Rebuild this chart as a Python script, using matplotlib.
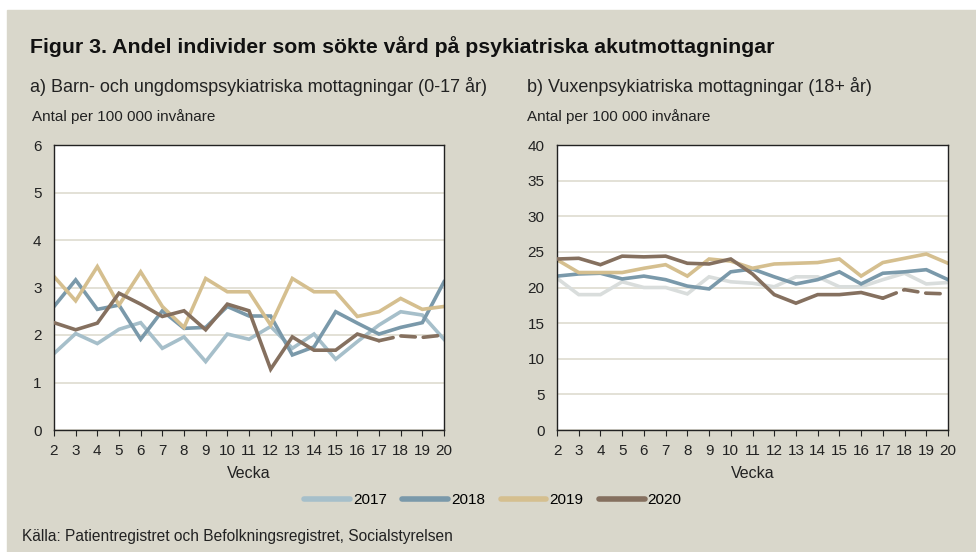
import matplotlib.pyplot as plt
from matplotlib.lines import Line2D

weeks = list(range(2, 21))

# a) Barn- och ungdomspsykiatriska mottagningar (0-17 år)
child_2017 = [1.61, 2.03, 1.82, 2.12, 2.26, 1.72, 1.96, 1.44, 2.02, 1.91,
              2.18, 1.72, 2.02, 1.49, 1.86, 2.21, 2.49, 2.42, 1.91]
child_2018 = [2.60, 3.16, 2.54, 2.63, 1.91, 2.51, 2.14, 2.16, 2.60, 2.40,
              2.40, 1.58, 1.75, 2.49, 2.25, 2.02, 2.16, 2.26, 3.12]
child_2019 = [3.23, 2.72, 3.44, 2.63, 3.33, 2.60, 2.16, 3.19, 2.91, 2.91,
              2.21, 3.19, 2.91, 2.91, 2.39, 2.49, 2.77, 2.54, 2.60]
child_2020 = [2.26, 2.11, 2.25, 2.88, 2.65, 2.39, 2.51, 2.11, 2.65, 2.51,
              1.28, 1.96, 1.68, 1.68, 2.02, 1.88, 1.98, 1.95, 2.00]

# b) Vuxenpsykiatriska mottagningar (18+ år)
adult_2017 = [21.3, 19.0, 19.0, 20.8, 20.0, 20.0, 19.1, 21.5, 20.8, 20.6,
              20.1, 21.5, 21.5, 20.1, 20.1, 21.1, 22.0, 20.5, 20.7]
adult_2018 = [21.6, 21.9, 22.0, 21.2, 21.6, 21.1, 20.2, 19.8, 22.2, 22.6,
              21.5, 20.5, 21.1, 22.2, 20.5, 22.0, 22.2, 22.5, 21.1]
adult_2019 = [23.9, 22.1, 22.1, 22.1, 22.7, 23.2, 21.6, 24.0, 23.7, 22.7,
              23.3, 23.4, 23.5, 24.0, 21.6, 23.5, 24.1, 24.7, 23.4]
adult_2020 = [24.0, 24.1, 23.2, 24.4, 24.3, 24.4, 23.4, 23.3, 24.0, 21.9,
              19.0, 17.8, 19.0, 19.0, 19.3, 18.5, 19.7, 19.2, 19.1]

years = ["2017", "2018", "2019", "2020"]
colors = ["#a6bfca", "#7a99aa", "#d5bf8f", "#85705f"]
last_solid = 17  # veckor efter detta är preliminära (streckade)

bg = "#d9d7cb"
grid_c = "#dedbd0"
font = "Liberation Sans"
plt.rcParams["font.family"] = [font, "DejaVu Sans"]

fig = plt.figure(figsize=(9.76, 5.52), dpi=100)
fig.patch.set_facecolor("white")
fig.add_artist(plt.Rectangle((7 / 976, 0), 1, 1 - 10 / 552,
                             transform=fig.transFigure, color=bg, zorder=-10))


def draw_panel(ax, series, ymax, ystep, col2017):
    cols = [col2017] + colors[1:]
    for name, vals, c in zip(years, series, cols):
        if name == "2020":
            i = weeks.index(last_solid)
            ax.plot(weeks[:i + 1], vals[:i + 1], color=c, lw=2.6,
                    solid_capstyle="round", solid_joinstyle="miter", zorder=3)
            ax.plot(weeks[i:], vals[i:], color=c, lw=2.6, dashes=(4, 2.2),
                    dash_capstyle="round", zorder=3)
        else:
            ax.plot(weeks, vals, color=c, lw=2.6, solid_joinstyle="miter",
                    zorder=2)
    ax.set_xlim(2, 20)
    ax.set_ylim(0, ymax)
    ax.set_xticks(weeks)
    ax.set_yticks(range(0, ymax + 1, ystep))
    ax.yaxis.grid(True, color=grid_c, lw=1.2)
    ax.set_axisbelow(True)
    ax.tick_params(axis="y", length=0, labelsize=11, pad=9, colors="#222222")
    ax.tick_params(axis="x", length=4, direction="out", labelsize=11,
                   pad=6, colors="#222222")
    for s in ax.spines.values():
        s.set_color("#222222")
        s.set_linewidth(1.0)
    ax.set_facecolor("white")
    ax.set_xlabel("Vecka", fontsize=11.5, labelpad=6, color="#222222")


ax1 = fig.add_axes([54 / 976, 122 / 552, 390 / 976, 285 / 552])
draw_panel(ax1, [child_2017, child_2018, child_2019, child_2020], 6, 1,
           colors[0])
ax2 = fig.add_axes([557 / 976, 122 / 552, 391 / 976, 285 / 552])
draw_panel(ax2, [adult_2017, adult_2018, adult_2019, adult_2020], 40, 5,
           "#d9dddc")

fig.text(30 / 976, 1 - 47 / 552,
         "Figur 3. Andel individer som sökte vård på psykiatriska akutmottagningar",
         fontsize=15.3, fontweight="bold", va="center", color="#111111")
fig.text(30 / 976, 1 - 87 / 552,
         "a) Barn- och ungdomspsykiatriska mottagningar (0-17 år)",
         fontsize=13, va="center", color="#222222")
fig.text(527 / 976, 1 - 87 / 552,
         "b) Vuxenpsykiatriska mottagningar (18+ år)",
         fontsize=13, va="center", color="#222222")
fig.text(32 / 976, 1 - 117 / 552, "Antal per 100 000 invånare",
         fontsize=11, va="center", color="#222222")
fig.text(527 / 976, 1 - 117 / 552, "Antal per 100 000 invånare",
         fontsize=11, va="center", color="#222222")
fig.text(22 / 976, 1 - 537 / 552,
         "Källa: Patientregistret och Befolkningsregistret, Socialstyrelsen",
         fontsize=11.2, va="center", color="#222222")

handles = [Line2D([], [], color=c, lw=4, solid_capstyle="round")
           for c in colors]
fig.legend(handles, years, loc="center", bbox_to_anchor=(493 / 976, 1 - 500 / 552),
           ncol=4, frameon=False, fontsize=11, handlelength=3.0,
           handletextpad=0.2, columnspacing=1.0)

fig.savefig("out.png", dpi=100, facecolor=fig.get_facecolor())
